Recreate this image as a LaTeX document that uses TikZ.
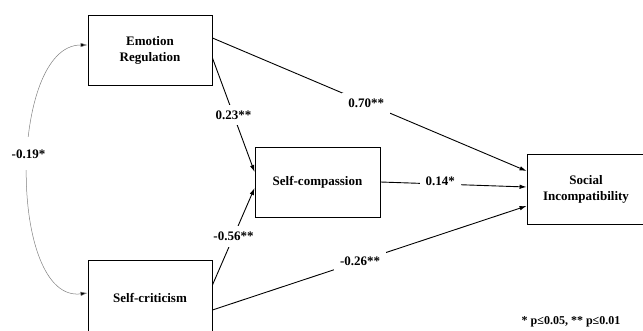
\documentclass[tikz,border=0pt]{standalone}
\usepackage{fontspec}
\setmainfont{Liberation Serif}
\usetikzlibrary{arrows.meta}
\begin{document}
\begin{tikzpicture}[x=1pt,y=-1pt,
  font=\fontsize{13}{16}\selectfont\bfseries,
  box/.style={draw, line width=0.9pt, align=center, inner sep=0pt},
  path/.style={draw, line width=0.9pt, -{Latex[length=7pt,width=4.5pt]}},
  lab/.style={fill=white, inner xsep=6pt, inner ysep=6pt}]
\useasboundingbox (0,0) rectangle (643,331);
\clip (0,0) rectangle (643,331);
\node[box, minimum width=124pt, minimum height=70pt] (er) at (150,50) {Emotion\\Regulation};
\node[box, minimum width=124pt, minimum height=76pt] (scr) at (150,298) {Self-criticism};
\node[box, minimum width=125pt, minimum height=70pt] (sc) at (317.5,182) {Self-compassion};
\node[box, minimum width=118pt, minimum height=70pt] (si) at (586,189) {Social\\Incompatibility};
\path[path] ([yshift=12pt]er.east) -- node[lab, pos=0.49] (l1) {0.70**} ([yshift=18pt]si.west);
\path[path] ([yshift=-8pt]er.east) -- node[lab, pos=0.5] (l2) {0.23**} ([yshift=10pt]sc.west);
\path[path] ([yshift=13pt]scr.east) -- node[lab, pos=0.5] (l3) {-0.56**} ([yshift=-6pt]sc.west);
\path[path] ([yshift=-12pt]scr.east) -- node[lab, pos=0.47] (l4) {-0.26**} ([yshift=-17pt]si.west);
\path[path] (sc.east) -- node[lab, pos=0.41, yshift=3pt] (l5) {0.14*} ([yshift=2pt]si.west);
\draw[line width=0.5pt, draw=gray, {Latex[length=7pt,width=4.5pt,fill=black]}-{Latex[length=7pt,width=4.5pt,fill=black]}]
  ([yshift=5pt]scr.west) .. controls (8,303) and (8,45) .. node[lab, pos=0.55, inner ysep=12pt, text=black] (l6) {-0.19*} ([yshift=5pt]er.west);
\node[font=\fontsize{12}{14}\selectfont\bfseries] (fn) at (571,322) {* p≤0.05, ** p≤0.01};
\end{tikzpicture}
\end{document}
